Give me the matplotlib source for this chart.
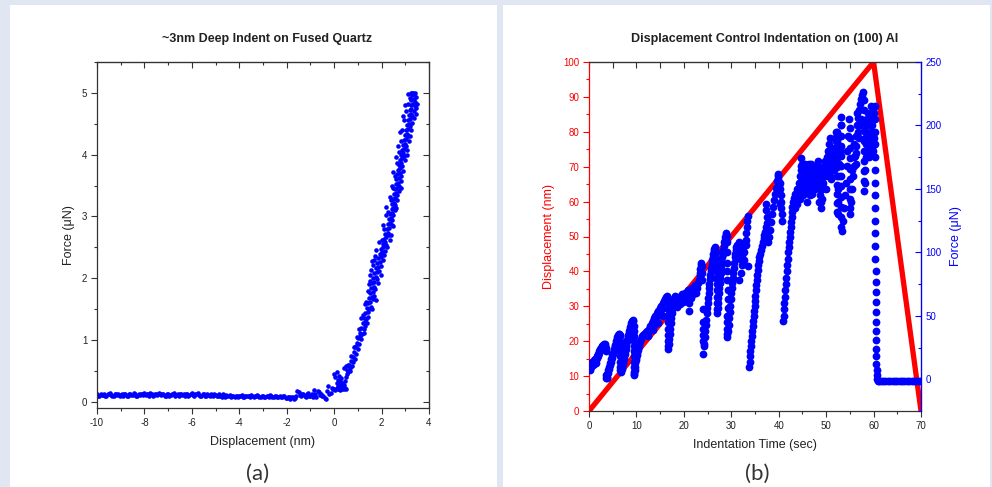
import matplotlib
matplotlib.use("Agg")
import matplotlib.pyplot as plt
from matplotlib.patches import Rectangle
from matplotlib.ticker import MultipleLocator

plt.rcParams['font.family'] = ['Liberation Sans', 'DejaVu Sans']
plt.rcParams['axes.unicode_minus'] = False

# ---------------- Panel (a) data: ~3nm indent on fused quartz ----------------
baseline_disp = [-10.0, -9.9, -9.8, -9.7, -9.6, -9.5, -9.4, -9.3, -9.2, -9.1,
                 -9.0, -8.9, -8.8, -8.7, -8.6, -8.5, -8.4, -8.3, -8.2, -8.1,
                 -8.0, -7.9, -7.8, -7.7, -7.6, -7.5, -7.4, -7.3, -7.2, -7.1,
                 -7.0, -6.9, -6.8, -6.7, -6.6, -6.5, -6.4, -6.3, -6.2, -6.1,
                 -6.0, -5.9, -5.8, -5.7, -5.6, -5.5, -5.4, -5.3, -5.2, -5.1,
                 -5.0, -4.9, -4.8, -4.7, -4.6, -4.5, -4.4, -4.3, -4.2, -4.1,
                 -4.0, -3.9, -3.8, -3.7, -3.6, -3.5, -3.4, -3.3, -3.2, -3.1,
                 -3.0, -2.9, -2.8, -2.7, -2.6, -2.5, -2.4, -2.3, -2.2, -2.1,
                 -2.0, -1.9, -1.8, -1.7, -1.6, -1.5, -1.4, -1.3, -1.2, -1.1,
                 -1.0, -0.9, -0.8, -0.7, -0.6, -0.5, -0.4, -0.3, -0.2, -0.1]
baseline_force = [0.12, 0.10, 0.11, 0.13, 0.09, 0.12, 0.11, 0.10, 0.12, 0.13,
                  0.11, 0.09, 0.12, 0.10, 0.13, 0.11, 0.12, 0.10, 0.11, 0.12,
                  0.14, 0.12, 0.10, 0.13, 0.11, 0.12, 0.14, 0.11, 0.12, 0.10,
                  0.13, 0.11, 0.12, 0.10, 0.13, 0.12, 0.11, 0.09, 0.12, 0.11,
                  0.14, 0.10, 0.12, 0.11, 0.09, 0.12, 0.10, 0.11, 0.13, 0.10,
                  0.11, 0.09, 0.10, 0.12, 0.08, 0.10, 0.11, 0.09, 0.07, 0.10,
                  0.09, 0.11, 0.08, 0.10, 0.09, 0.11, 0.08, 0.10, 0.09, 0.07,
                  0.10, 0.08, 0.09, 0.11, 0.07, 0.09, 0.08, 0.10, 0.07, 0.09,
                  0.06, 0.08, 0.07, 0.05, 0.09, 0.16, 0.10, 0.12, 0.08, 0.14,
                  0.10, 0.07, 0.13, 0.18, 0.11, 0.09, 0.06, 0.17, 0.12, 0.22]
baseline2_disp = [-9.95, -9.85, -9.75, -9.65, -9.55, -9.45, -9.35, -9.25, -9.15, -9.05,
                  -8.95, -8.85, -8.75, -8.65, -8.55, -8.45, -8.35, -8.25, -8.15, -8.05,
                  -7.95, -7.85, -7.75, -7.65, -7.55, -7.45, -7.35, -7.25, -7.15, -7.05,
                  -6.95, -6.85, -6.75, -6.65, -6.55, -6.45, -6.35, -6.25, -6.15, -6.05,
                  -5.95, -5.85, -5.75, -5.65, -5.55, -5.45, -5.35, -5.25, -5.15, -5.05,
                  -4.95, -4.85, -4.75, -4.65, -4.55, -4.45, -4.35, -4.25, -4.15, -4.05,
                  -3.95, -3.85, -3.75, -3.65, -3.55, -3.45, -3.35, -3.25, -3.15, -3.05,
                  -2.95, -2.85, -2.75, -2.65, -2.55, -2.45, -2.35, -2.25, -2.15, -2.05,
                  -1.95, -1.85, -1.75, -1.65, -1.55, -1.45, -1.35, -1.25, -1.15, -1.05,
                  -0.95, -0.85, -0.75, -0.65, -0.55, -0.45]
baseline2_force = [0.10, 0.13, 0.11, 0.09, 0.12, 0.14, 0.10, 0.12, 0.11, 0.09,
                   0.12, 0.13, 0.10, 0.12, 0.11, 0.14, 0.09, 0.13, 0.12, 0.11,
                   0.11, 0.13, 0.15, 0.10, 0.12, 0.11, 0.13, 0.12, 0.10, 0.12,
                   0.10, 0.12, 0.14, 0.11, 0.10, 0.13, 0.12, 0.13, 0.10, 0.12,
                   0.11, 0.13, 0.14, 0.10, 0.12, 0.09, 0.12, 0.10, 0.11, 0.12,
                   0.10, 0.12, 0.08, 0.09, 0.11, 0.09, 0.08, 0.10, 0.09, 0.08,
                   0.10, 0.08, 0.10, 0.09, 0.07, 0.10, 0.09, 0.11, 0.08, 0.10,
                   0.08, 0.10, 0.07, 0.09, 0.08, 0.10, 0.08, 0.07, 0.09, 0.06,
                   0.08, 0.05, 0.07, 0.06, 0.18, 0.11, 0.13, 0.09, 0.12, 0.10,
                   0.13, 0.19, 0.08, 0.16, 0.12, 0.10]

contact_pts = [(-0.35, 0.05), (-0.25, 0.25), (-0.15, 0.15), (-0.05, 0.20),
               (0.0, 0.21), (0.05, 0.19), (0.1, 0.22), (0.15, 0.20), (0.2, 0.21),
               (0.25, 0.19), (0.3, 0.22), (0.35, 0.20), (0.4, 0.21), (0.45, 0.23),
               (0.5, 0.20), (0.0, 0.45), (0.05, 0.40), (0.1, 0.48), (0.15, 0.35),
               (0.2, 0.42), (0.2, 0.28), (0.25, 0.33), (0.3, 0.25), (0.35, 0.30),
               (0.4, 0.27), (0.1, 0.30), (0.15, 0.26), (0.3, 0.38), (0.45, 0.33),
               (0.4, 0.55), (0.5, 0.58), (0.55, 0.52), (0.6, 0.60), (0.65, 0.55),
               (0.5, 0.40), (0.55, 0.45), (0.6, 0.48), (0.65, 0.50), (0.85, 0.88)]

loading_pts = [(0.62, 0.60), (0.75, 0.58), (0.70, 0.66), (0.80, 0.64), (0.78, 0.72),
               (0.86, 0.70), (0.70, 0.74), (0.84, 0.80), (0.92, 0.78), (0.88, 0.88),
               (1.00, 0.86), (0.94, 0.90), (0.98, 0.96), (1.05, 0.94), (1.02, 1.04),
               (1.12, 1.02), (1.08, 1.06), (1.10, 1.12), (1.18, 1.10), (1.15, 1.20),
               (1.24, 1.18), (1.30, 1.22), (1.20, 1.28), (1.30, 1.30), (1.26, 1.36),
               (1.36, 1.34), (1.42, 1.38), (1.32, 1.44), (1.42, 1.46), (1.38, 1.52),
               (1.48, 1.50), (1.56, 1.54), (1.44, 1.60), (1.52, 1.62), (1.47, 1.68),
               (1.58, 1.70), (1.64, 1.66), (1.52, 1.76), (1.62, 1.78), (1.55, 1.84),
               (1.66, 1.86), (1.72, 1.82), (1.60, 1.92), (1.70, 1.94), (1.65, 2.00),
               (1.76, 2.02), (1.82, 1.98), (1.70, 2.08), (1.80, 2.10), (1.56, 2.14),
               (1.76, 2.16), (1.86, 2.18), (1.80, 2.24), (1.92, 2.26), (1.62, 2.22),
               (1.86, 2.32), (1.96, 2.34), (1.92, 2.40), (2.02, 2.42), (2.10, 2.38),
               (1.98, 2.48), (2.08, 2.50), (2.04, 2.56), (2.14, 2.58), (2.20, 2.54),
               (2.10, 2.64), (2.20, 2.66), (2.16, 2.72), (2.26, 2.74), (2.30, 2.70),
               (2.22, 2.80), (2.32, 2.82), (2.26, 2.88), (2.36, 2.90), (2.42, 2.86),
               (2.30, 2.96), (2.40, 2.98), (2.36, 3.04), (2.46, 3.06), (2.50, 3.02),
               (2.42, 3.12), (2.50, 3.14), (2.46, 3.20), (2.54, 3.22), (2.58, 3.18),
               (2.50, 3.28), (2.58, 3.30), (2.54, 3.36), (2.62, 3.38), (2.66, 3.34),
               (2.56, 3.44), (2.66, 3.46), (2.60, 3.52), (2.68, 3.54), (2.72, 3.50),
               (2.62, 3.60), (2.72, 3.62), (2.66, 3.68), (2.76, 3.70), (2.80, 3.66),
               (2.70, 3.76), (2.78, 3.78), (2.74, 3.84), (2.84, 3.86), (2.88, 3.82),
               (2.78, 3.92), (2.86, 3.94), (2.82, 4.00), (2.92, 4.02), (2.96, 3.98),
               (2.86, 4.08), (2.94, 4.10), (2.90, 4.16), (3.00, 4.18), (3.04, 4.14),
               (2.94, 4.24), (3.02, 4.26), (2.98, 4.32), (3.08, 4.34), (3.12, 4.30),
               (3.02, 4.40), (3.10, 4.42), (3.06, 4.48), (3.14, 4.50), (3.18, 4.46),
               (3.10, 4.56), (3.20, 4.58), (3.14, 4.64), (3.22, 4.66), (3.28, 4.62),
               (3.18, 4.72), (3.26, 4.74), (3.38, 4.70), (3.22, 4.80), (3.32, 4.82),
               (3.40, 4.78), (3.26, 4.88), (3.36, 4.90), (3.42, 4.86), (3.30, 4.96),
               (3.38, 4.98), (3.34, 5.00)]
loading_scatter = [(1.05, 1.18), (1.22, 1.40), (1.35, 1.62), (1.70, 1.72), (1.48, 1.90),
                   (1.90, 2.12), (1.72, 2.36), (2.16, 2.44), (2.00, 2.62), (2.34, 2.62),
                   (2.12, 2.80), (2.44, 2.94), (2.28, 3.08), (2.56, 3.10), (2.40, 3.26),
                   (2.64, 3.26), (2.48, 3.46), (2.74, 3.42), (2.56, 3.66), (2.84, 3.58),
                   (2.64, 3.86), (2.90, 3.74), (2.72, 4.04), (2.98, 3.92), (2.82, 4.22),
                   (3.06, 4.08), (2.88, 4.40), (3.14, 4.22), (2.96, 4.56), (3.22, 4.40),
                   (3.04, 4.70), (3.30, 4.52), (3.12, 4.82), (3.36, 4.60), (3.20, 4.92),
                   (3.44, 4.76), (3.28, 5.00), (3.40, 5.00), (3.44, 4.94), (0.95, 1.05),
                   (1.15, 1.35), (1.28, 1.12), (1.40, 1.28), (1.60, 1.50), (1.75, 1.64),
                   (1.52, 1.96), (1.84, 1.92), (1.96, 2.06), (1.68, 2.30),
                   (1.30, 1.58), (1.42, 1.80), (1.50, 2.05), (1.98, 2.20), (2.04, 2.30),
                   (1.58, 2.28), (1.78, 2.46), (2.24, 2.50), (1.88, 2.58), (2.40, 2.70),
                   (2.06, 2.86), (2.50, 2.84), (2.18, 3.02), (2.20, 3.16), (2.62, 3.14),
                   (2.34, 3.32), (2.44, 3.50), (2.80, 3.46), (2.50, 3.72), (2.60, 3.96),
                   (2.68, 4.14), (3.08, 4.00), (2.78, 4.36), (3.20, 4.30), (2.90, 4.62),
                   (3.00, 4.80), (3.44, 4.66), (3.48, 4.82), (3.10, 4.98), (3.22, 5.00)]

# ---------------- Panel (b) data: displacement control on (100) Al ----------------
disp_time = [0, 60, 70]
disp_nm = [0, 100, 0]

force_seg1 = [(0.0, 8), (0.0, 12), (0.1, 10), (0.2, 7), (0.3, 11), (0.4, 13), (0.5, 10),
              (0.6, 12), (0.7, 14), (0.8, 11), (0.9, 13), (1.0, 15), (1.1, 12), (1.2, 14),
              (1.3, 16), (1.4, 13), (1.5, 15), (1.6, 17), (1.7, 18), (1.8, 19), (1.9, 18),
              (2.0, 20), (2.1, 21), (2.2, 22), (2.3, 23), (2.4, 24), (2.5, 24), (2.6, 25),
              (2.7, 26), (2.8, 26), (2.9, 27), (3.0, 27), (3.1, 28), (3.2, 27), (3.3, 28),
              (3.4, 26), (3.5, 25), (3.5, 22)]
force_seg2 = [(3.5, 1), (3.6, 3), (3.7, 1), (3.8, 4), (3.9, 2), (4.0, 5), (4.1, 7), (4.2, 8),
              (4.3, 10), (4.4, 11), (4.5, 13), (4.6, 14), (4.7, 16), (4.8, 17), (4.9, 19),
              (5.0, 20), (5.1, 21), (5.2, 23), (5.3, 24), (5.4, 26), (5.5, 27), (5.6, 28),
              (5.7, 30), (5.8, 31), (5.9, 32), (6.0, 33), (6.1, 34), (6.2, 35), (6.3, 36),
              (6.4, 36), (6.5, 35), (6.6, 34), (6.6, 30), (6.6, 26), (6.6, 22), (6.6, 18),
              (6.6, 14), (6.6, 10), (6.6, 7)]
force_seg3 = [(6.8, 6), (6.9, 8), (7.0, 10), (7.1, 12), (7.2, 14), (7.3, 16), (7.4, 18),
              (7.5, 20), (7.6, 22), (7.7, 24), (7.8, 26), (7.9, 28), (8.0, 30), (8.1, 31),
              (8.2, 33), (8.3, 35), (8.4, 36), (8.5, 38), (8.6, 40), (8.7, 41), (8.8, 43),
              (8.9, 44), (9.0, 45), (9.1, 46), (9.2, 47), (9.3, 46), (9.4, 42), (9.4, 38),
              (9.4, 34), (9.4, 30), (9.4, 26), (9.4, 22), (9.4, 18), (9.4, 14), (9.4, 10),
              (9.4, 6), (9.4, 3)]
force_seg4 = [(9.5, 4), (9.6, 7), (9.7, 10), (9.8, 13), (9.9, 15), (10.0, 17), (10.1, 19),
              (10.2, 21), (10.3, 23), (10.4, 25), (10.5, 26), (10.6, 28), (10.8, 30),
              (11.0, 32), (11.2, 34), (11.4, 35), (11.6, 36), (11.8, 36), (12.0, 37),
              (12.2, 38), (12.4, 37), (12.5, 34), (12.6, 40), (12.8, 42), (13.0, 41),
              (13.2, 44), (13.4, 46), (13.5, 39), (13.6, 43), (13.8, 48), (14.0, 50),
              (14.2, 47), (14.4, 52), (14.5, 44), (14.6, 54), (14.8, 51), (15.0, 56),
              (15.2, 58), (15.4, 55), (15.5, 50), (15.6, 60), (15.8, 62), (16.0, 63),
              (16.2, 65), (16.4, 66), (16.5, 64), (16.6, 60), (16.6, 55), (16.6, 50),
              (16.6, 45), (16.6, 40), (16.6, 35), (16.6, 30), (16.6, 26), (16.6, 24)]
force_seg5 = [(16.8, 28), (16.9, 32), (17.0, 36), (17.1, 40), (17.2, 44), (17.3, 48),
              (17.4, 52), (17.5, 55), (17.6, 58), (17.8, 61), (18.0, 64), (18.2, 66),
              (18.4, 60), (18.6, 57), (18.8, 62), (19.0, 65), (19.2, 59), (19.4, 63),
              (19.6, 67), (19.8, 61), (20.0, 64), (20.2, 68), (20.4, 62), (20.6, 66),
              (20.8, 70), (21.0, 60), (21.0, 54), (21.2, 65), (21.4, 69), (21.6, 64),
              (21.8, 72), (22.0, 67), (22.2, 70), (22.4, 74), (22.6, 68), (22.8, 72),
              (23.0, 76), (23.2, 78), (23.3, 81), (23.4, 84), (23.5, 87), (23.6, 90),
              (23.7, 92), (23.8, 89), (23.9, 84), (23.9, 78), (24.0, 55), (24.0, 45),
              (24.1, 40), (24.1, 35), (24.1, 30), (24.2, 26), (24.0, 20)]
force_seg6 = [(24.3, 28), (24.4, 33), (24.5, 38), (24.6, 43), (24.7, 47), (24.8, 52),
              (24.9, 56), (25.0, 60), (25.1, 64), (25.2, 68), (25.3, 72), (25.4, 75),
              (25.5, 79), (25.6, 82), (25.7, 85), (25.8, 88), (25.9, 91), (26.0, 94),
              (26.1, 96), (26.2, 99), (26.3, 101), (26.4, 103), (26.5, 104), (26.7, 100),
              (26.7, 95), (26.8, 90), (26.8, 85), (26.8, 80), (26.9, 75), (26.9, 70),
              (26.9, 65), (27.0, 60), (27.0, 55), (27.0, 52)]
force_seg7 = [(27.1, 56), (27.2, 60), (27.3, 64), (27.4, 68), (27.5, 72), (27.6, 76),
              (27.7, 80), (27.8, 84), (27.9, 88), (28.0, 92), (28.1, 96), (28.2, 99),
              (28.3, 102), (28.4, 105), (28.5, 108), (28.6, 110), (28.7, 112), (28.8, 114),
              (28.9, 115), (29.0, 113), (29.1, 108), (29.1, 100), (29.2, 92), (29.2, 85),
              (29.2, 78), (29.3, 70), (29.3, 63), (29.3, 56), (29.2, 50), (29.2, 45),
              (29.2, 40), (29.1, 36), (29.1, 33)]
force_seg8 = [(29.4, 38), (29.5, 43), (29.6, 48), (29.7, 53), (29.8, 58), (29.9, 63),
              (30.0, 68), (30.1, 72), (30.2, 76), (30.3, 80), (30.4, 84), (30.5, 88),
              (30.6, 92), (30.7, 96), (30.8, 99), (30.9, 102), (31.0, 104), (31.2, 106),
              (31.4, 104), (31.6, 108), (31.8, 100), (31.8, 95), (32.0, 105), (32.2, 98),
              (32.2, 90), (32.4, 104), (32.6, 100), (32.6, 94), (32.8, 108), (33.0, 106),
              (33.1, 110), (33.2, 115), (33.3, 120), (33.4, 125), (33.5, 129), (32.0, 84),
              (31.7, 78), (33.6, 89)]
force_seg9 = [(33.8, 10), (33.85, 14), (33.9, 18), (34.0, 22), (34.1, 26), (34.2, 30),
              (34.3, 34), (34.4, 38), (34.5, 42), (34.6, 46), (34.7, 50), (34.8, 54),
              (34.9, 58), (35.0, 62), (35.1, 66), (35.2, 70), (35.3, 74), (35.4, 78),
              (35.5, 82), (35.6, 86), (35.7, 90), (35.8, 93), (35.9, 96), (36.0, 99),
              (36.2, 102), (36.4, 105), (36.6, 108), (36.8, 111), (37.0, 114), (37.2, 116),
              (37.4, 138), (37.4, 133), (37.5, 128), (37.5, 123), (37.6, 118), (37.6, 113),
              (37.7, 108), (37.3, 120), (38.0, 112), (38.2, 118), (38.4, 124), (38.6, 130),
              (38.8, 136), (39.0, 141), (39.2, 146), (39.4, 151), (39.6, 156), (39.8, 160),
              (39.9, 162), (39.9, 158), (40.0, 152), (40.1, 147), (40.2, 155), (40.3, 150),
              (40.4, 145), (40.5, 140), (40.5, 135), (40.6, 130), (40.3, 138), (40.6, 125)]
force_seg10 = [(41.0, 46), (41.05, 50), (41.1, 55), (41.2, 60), (41.3, 65), (41.4, 70),
               (41.5, 75), (41.6, 80), (41.7, 85), (41.8, 90), (41.9, 95), (42.0, 100),
               (42.1, 104), (42.2, 108), (42.3, 112), (42.4, 116), (42.5, 120), (42.6, 124),
               (42.7, 128), (42.8, 132), (42.9, 136), (43.0, 140), (43.2, 143), (43.4, 146),
               (43.6, 140), (43.8, 150), (44.0, 145), (44.2, 155), (44.4, 160), (44.6, 168),
               (44.8, 174), (44.8, 165), (45.0, 158), (45.0, 150), (45.2, 145), (45.4, 162),
               (45.6, 170), (45.6, 155), (45.8, 148), (46.0, 158), (46.2, 165), (46.4, 170),
               (46.4, 150), (46.6, 145), (46.8, 155), (47.0, 162), (47.2, 168), (47.4, 158),
               (47.6, 150), (47.8, 160), (48.0, 168), (48.2, 172), (48.4, 165), (48.6, 155),
               (48.8, 145), (48.9, 140), (49.0, 135), (49.2, 150), (49.4, 160), (49.6, 168),
               (49.8, 172), (50.0, 165), (50.2, 175), (50.4, 180), (50.6, 185), (50.8, 190),
               (51.0, 178), (51.2, 170), (51.4, 175), (51.6, 182), (51.8, 190), (52.0, 195),
               (44.4, 142), (47.1, 146), (45.1, 166), (46.9, 170), (48.6, 162), (50.4, 160),
               (51.0, 158), (51.6, 165)]
force_plateau_fill = [(43.5, 135), (43.7, 145), (43.9, 138), (44.1, 150), (44.3, 148),
                      (44.5, 155), (44.7, 160), (44.9, 170), (45.1, 155), (45.3, 150),
                      (45.5, 165), (45.7, 160), (45.9, 152), (46.1, 162), (46.3, 155),
                      (46.5, 162), (46.7, 165), (46.9, 160), (47.1, 155), (47.3, 163),
                      (47.5, 168), (47.7, 155), (47.9, 165), (48.1, 160), (48.3, 168),
                      (48.5, 160), (48.7, 150), (49.1, 142), (49.3, 155), (49.5, 165),
                      (49.7, 160), (49.9, 168), (50.1, 172), (50.3, 168), (50.5, 175),
                      (50.7, 178), (50.9, 170), (51.1, 165), (51.3, 180), (51.5, 172),
                      (51.7, 176), (51.9, 182), (52.1, 188), (50.9, 160), (49.9, 150),
                      (48.4, 140), (45.9, 140), (43.2, 135)]
force_seg11 = [(52.3, 195), (52.3, 188), (52.3, 181), (52.3, 174), (52.3, 167), (52.3, 160),
               (52.3, 153), (52.3, 146), (52.3, 139), (52.3, 132), (52.4, 130), (52.5, 140),
               (52.6, 150), (52.7, 160), (52.8, 170), (52.9, 180), (53.0, 192), (53.1, 200),
               (53.1, 207), (53.2, 200), (53.2, 192), (53.2, 184), (53.2, 176), (53.2, 168),
               (53.2, 160), (53.2, 152), (53.2, 144), (53.2, 136), (53.2, 128), (53.2, 120),
               (53.3, 117), (53.5, 125), (53.7, 135), (53.9, 145), (54.1, 155), (54.3, 168),
               (54.5, 180), (54.7, 192), (54.9, 205), (55.0, 198), (55.0, 190), (55.0, 182),
               (55.0, 174), (55.0, 166), (55.0, 158), (55.0, 150), (55.0, 142), (55.0, 135),
               (55.1, 130)]
force_seg12 = [(55.2, 140), (55.4, 150), (55.6, 160), (55.8, 168), (56.0, 176), (56.2, 184),
               (56.4, 192), (56.6, 200), (56.8, 206), (57.0, 212), (57.2, 217), (57.4, 221),
               (57.6, 224), (57.7, 226), (55.8, 185), (56.2, 170), (56.5, 210), (56.9, 190),
               (57.9, 220), (57.9, 212), (57.9, 204), (57.9, 196), (57.9, 188), (57.9, 180),
               (57.9, 172), (57.9, 164), (57.9, 156), (58.0, 148), (58.1, 155), (58.2, 165),
               (58.3, 175), (58.4, 185), (58.5, 195), (58.7, 190), (58.9, 200), (59.1, 185),
               (59.3, 205), (59.5, 195), (59.7, 208), (59.9, 214), (58.8, 180), (59.2, 178),
               (59.6, 182), (60.0, 190), (59.4, 215), (60.1, 205),
               (58.2, 190), (58.6, 205), (58.8, 210), (59.0, 192), (59.2, 200), (59.4, 188),
               (59.6, 200), (59.8, 195), (60.0, 210), (58.4, 200), (59.0, 175), (59.8, 180),
               (57.3, 205), (56.7, 195), (56.3, 178), (55.9, 175), (55.5, 165), (57.1, 200)]
force_seg13 = [(60.3, 215), (60.3, 205), (60.3, 195), (60.3, 185), (60.3, 175), (60.3, 165),
               (60.3, 155), (60.4, 145), (60.4, 135), (60.4, 125), (60.4, 115), (60.4, 105),
               (60.4, 95), (60.5, 85), (60.5, 77), (60.5, 69), (60.5, 61), (60.5, 53),
               (60.6, 45), (60.6, 38), (60.6, 31), (60.6, 24), (60.6, 18), (60.6, 12),
               (60.7, 7), (60.7, 3), (60.8, 0), (60.9, -1.3), (61.2, -1.3), (61.6, -1.3),
               (62.0, -1.3), (62.5, -1.3), (63.0, -1.3), (63.5, -1.3), (64.0, -1.3),
               (64.5, -1.3), (65.0, -1.3), (65.5, -1.3), (66.0, -1.3), (66.5, -1.3),
               (67.0, -1.3), (67.5, -1.3), (68.0, -1.3), (68.5, -1.3), (69.0, -1.3),
               (69.5, -1.3), (70.0, -1.3)]

force_segments = [force_seg1, force_seg2, force_seg3, force_seg4, force_seg5, force_seg6,
                  force_seg7, force_seg8, force_seg9, force_seg10, force_plateau_fill,
                  force_seg11, force_seg12, force_seg13]

# ---------------- Figure ----------------
W, H = 992, 487
fig = plt.figure(figsize=(W / 100, H / 100), dpi=100)
fig.patch.set_facecolor('#e0e7f3')
for x0, x1 in [(10, 497), (503, 990)]:
    fig.add_artist(Rectangle((x0 / W, 0), (x1 - x0) / W, (H - 5) / H,
                             transform=fig.transFigure, facecolor='white',
                             edgecolor='none', zorder=-10))

BLUE = '#0000ff'
RED = '#ff0000'
TXT = '#222222'
SPN = '#333333'


def ax_rect(l, r, t, b):
    return [l / W, 1 - b / H, (r - l) / W, (b - t) / H]


# ---- Panel (a)
ax1 = fig.add_axes(ax_rect(97, 429, 62, 408))
bx = (baseline_disp + baseline2_disp + [p[0] for p in contact_pts]
      + [p[0] for p in loading_pts] + [p[0] for p in loading_scatter])
by = (baseline_force + baseline2_force + [p[1] for p in contact_pts]
      + [p[1] for p in loading_pts] + [p[1] for p in loading_scatter])
ax1.plot(bx, by, 'o', ms=3.3, color=BLUE, mec='none')
ax1.set_xlim(-10, 4)
ax1.set_ylim(-0.1, 5.5)
ax1.xaxis.set_major_locator(MultipleLocator(2))
ax1.xaxis.set_minor_locator(MultipleLocator(1))
ax1.yaxis.set_major_locator(MultipleLocator(1))
ax1.yaxis.set_minor_locator(MultipleLocator(0.5))
ax1.tick_params(which='major', length=4, width=0.8, labelsize=7, pad=3,
                direction='out', colors=SPN, labelcolor=TXT)
ax1.tick_params(which='minor', length=2.2, width=0.8, direction='out', colors=SPN)
for s in ax1.spines.values():
    s.set_color(SPN); s.set_linewidth(0.9)
top1 = ax1.secondary_xaxis('top')
top1.xaxis.set_major_locator(MultipleLocator(2))
top1.xaxis.set_minor_locator(MultipleLocator(1))
top1.tick_params(which='major', direction='in', length=4, width=0.8, labeltop=False, colors=SPN)
top1.tick_params(which='minor', direction='in', length=2.2, width=0.8, colors=SPN)
right1 = ax1.secondary_yaxis('right')
right1.yaxis.set_major_locator(MultipleLocator(1))
right1.yaxis.set_minor_locator(MultipleLocator(0.5))
right1.tick_params(which='major', direction='in', length=4, width=0.8, labelright=False, colors=SPN)
right1.tick_params(which='minor', direction='in', length=2.2, width=0.8, colors=SPN)
ax1.set_xlabel('Displacement (nm)', fontsize=9, color=TXT, labelpad=6)
ax1.set_ylabel('Force (μN)', fontsize=9, color=TXT, labelpad=5)
fig.text(266.7 / W, 1 - 39 / H, '~3nm Deep Indent on Fused Quartz', ha='center', va='center',
         fontsize=9, fontweight='bold', color=TXT)
fig.text(258 / W, 1 - 474 / H, '(a)', ha='center', va='center', fontsize=16,
         family=['Lato', 'DejaVu Sans'], color='#333333')

# ---- Panel (b)
ax2 = fig.add_axes(ax_rect(589, 921, 62, 411))
ax2.plot(disp_time, disp_nm, '-', color=RED, lw=3.8, solid_capstyle='butt')
ax2.set_xlim(0, 70)
ax2.set_ylim(0, 100)
ax2.xaxis.set_major_locator(MultipleLocator(10))
ax2.xaxis.set_minor_locator(MultipleLocator(5))
ax2.yaxis.set_major_locator(MultipleLocator(10))
ax2.yaxis.set_minor_locator(MultipleLocator(5))
ax2.tick_params(axis='x', which='major', length=4, width=0.8, labelsize=7, pad=3,
                direction='out', colors=SPN, labelcolor=TXT)
ax2.tick_params(axis='x', which='minor', length=2.2, width=0.8, direction='out', colors=SPN)
ax2.tick_params(axis='y', which='major', length=4, width=0.8, labelsize=7, pad=3,
                direction='out', colors=RED, labelcolor=RED)
ax2.tick_params(axis='y', which='minor', length=2.2, width=0.8, direction='out', colors=RED)
for k in ['top', 'bottom']:
    ax2.spines[k].set_color(SPN); ax2.spines[k].set_linewidth(0.9)
ax2.spines['left'].set_color(RED); ax2.spines['left'].set_linewidth(0.9)
top2 = ax2.secondary_xaxis('top')
top2.xaxis.set_major_locator(MultipleLocator(10))
top2.xaxis.set_minor_locator(MultipleLocator(5))
top2.tick_params(which='major', direction='in', length=4, width=0.8, labeltop=False, colors=SPN)
top2.tick_params(which='minor', direction='in', length=4, width=0.8, colors=SPN)
ax2.set_xlabel('Indentation Time (sec)', fontsize=9, color=TXT, labelpad=6)
ax2.set_ylabel('Displacement (nm)', fontsize=9, color=RED, labelpad=6)

ax3 = ax2.twinx()
ft = [p[0] for seg in force_segments for p in seg]
ff = [p[1] for seg in force_segments for p in seg]
ax3.plot(ft, ff, 'o', ms=5.6, color=BLUE, mec='none')
ax3.set_ylim(-25, 250)
ax3.set_xlim(0, 70)
ax3.yaxis.set_major_locator(MultipleLocator(50))
ax3.yaxis.set_minor_locator(MultipleLocator(25))
ax3.tick_params(axis='y', which='major', length=4, width=0.8, labelsize=7, pad=3,
                direction='in', colors=BLUE, labelcolor=BLUE)
ax3.tick_params(axis='y', which='minor', length=2.2, width=0.8, direction='in', colors=BLUE)
ax3.set_yticks([0, 50, 100, 150, 200, 250])
ax3.spines['right'].set_color(BLUE); ax3.spines['right'].set_linewidth(0.9)
ax3.spines['left'].set_visible(False)
ax3.spines['top'].set_visible(False)
ax3.spines['bottom'].set_visible(False)
ax3.set_ylabel('Force (μN)', fontsize=9, color=BLUE, labelpad=6)
fig.text(764.5 / W, 1 - 39 / H, 'Displacement Control Indentation on (100) Al', ha='center',
         va='center', fontsize=9, fontweight='bold', color=TXT)
fig.text(757 / W, 1 - 474 / H, '(b)', ha='center', va='center', fontsize=16,
         family=['Lato', 'DejaVu Sans'], color='#333333')

fig.savefig('out.png', dpi=100, facecolor=fig.get_facecolor())
